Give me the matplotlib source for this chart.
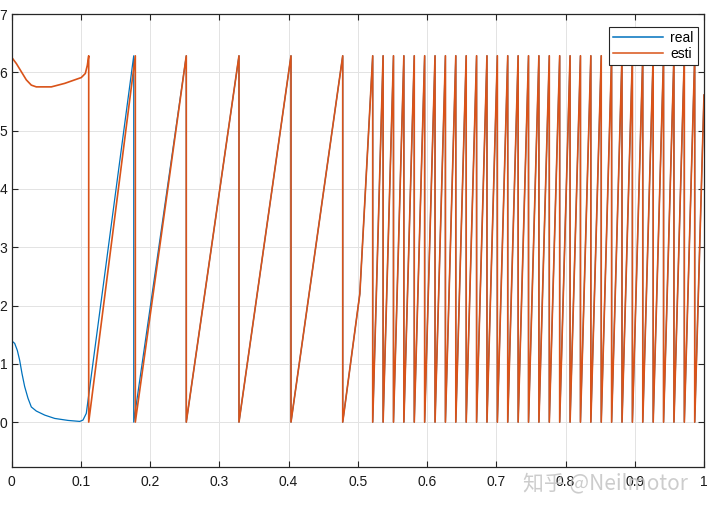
import numpy as np
import matplotlib
matplotlib.use("Agg")
import matplotlib.pyplot as plt

plt.rcParams['font.family'] = ['Liberation Sans', 'DejaVu Sans']

TWO_PI = 6.2832

# start-up part (before the first wrap)
real_start_t = [0.0, 0.0007, 0.0046, 0.0084, 0.0118, 0.0152, 0.019, 0.0238, 0.0286,
                0.0358, 0.048, 0.0624, 0.0816, 0.0985, 0.1032, 0.108]
real_start_v = [1.40, 1.39, 1.35, 1.23, 1.06, 0.83, 0.61, 0.41, 0.26,
                0.19, 0.12, 0.063, 0.029, 0.012, 0.034, 0.15]

esti_start_t = [0.0, 0.0007, 0.007, 0.0142, 0.0214, 0.0286, 0.0358, 0.0575, 0.0768,
                0.1008, 0.1066, 0.1095]
esti_start_v = [0.0, 6.25, 6.15, 6.01, 5.87, 5.78, 5.75, 5.75, 5.81,
                5.91, 5.98, 6.12]

# wrap instants (angle drops 2pi -> 0)
real_wraps = [0.1765, 0.2524, 0.3285, 0.4036, 0.4783]
esti_wraps = [0.1115, 0.1788, 0.2524, 0.3285, 0.4036, 0.4783]

# kink in the ramp where the speed steps up
kink_t = 0.503
kink_v = 2.2

fast_wraps = [0.5216, 0.5366, 0.5516, 0.5666, 0.5816, 0.5966, 0.6116, 0.6266,
              0.6416, 0.6566, 0.6716, 0.6866, 0.7016, 0.7166, 0.7316, 0.7466,
              0.7616, 0.7766, 0.7916, 0.8066, 0.8216, 0.8366, 0.8516, 0.8666,
              0.8816, 0.8966, 0.9116, 0.9266, 0.9416, 0.9566, 0.9716, 0.9866]
end_t = 1.0
end_v = 5.61


def build(start_t, start_v, wraps):
    t = list(start_t)
    v = list(start_v)
    for w in wraps:
        t += [w, w]
        v += [TWO_PI, 0.0]
    t.append(kink_t)
    v.append(kink_v)
    for w in fast_wraps:
        t += [w, w]
        v += [TWO_PI, 0.0]
    t.append(end_t)
    v.append(end_v)
    return np.array(t), np.array(v)


t_real, v_real = build(real_start_t, real_start_v, real_wraps)
t_esti, v_esti = build(esti_start_t, esti_start_v, esti_wraps)

fig = plt.figure(figsize=(7.2, 5.12), dpi=100)
ax = fig.add_axes([11.5 / 720, 1 - 467 / 512, 692.5 / 720, 453 / 512])

# blue a touch thinner so the orange hides it where both coincide
ax.plot(t_real, v_real, color='#0072BD', lw=0.9, label='real')
ax.plot(t_esti, v_esti, color='#D95319', lw=1.2, label='esti')

ax.set_xlim(0, 1)
ax.set_ylim(-0.77, 7)
ax.set_xticks(np.arange(0, 1.01, 0.1))
ax.set_xticklabels(['0', '0.1', '0.2', '0.3', '0.4', '0.5', '0.6', '0.7', '0.8', '0.9', '1'])
ax.set_yticks(range(0, 8))

ax.grid(True, color='#e3e3e3', lw=0.7)
ax.set_axisbelow(True)
ax.tick_params(direction='in', top=True, right=True, length=4, width=0.8,
               color='#262626', labelsize=10, labelcolor='#1a1a1a')
ax.tick_params(axis='y', pad=3)
ax.tick_params(axis='x', pad=6)
for s in ax.spines.values():
    s.set_color('#262626')
    s.set_linewidth(0.9)

leg = ax.legend(loc='upper right', bbox_to_anchor=(0.9913, 0.9713), borderaxespad=0,
                fontsize=10, fancybox=False, framealpha=1, edgecolor='#262626',
                handlelength=3.6, borderpad=0.3, labelspacing=0.15, handletextpad=0.5)
leg.get_frame().set_linewidth(0.8)
for h in leg.get_lines():
    h.set_linewidth(1.1)

# watermark of the source site
fig.text(0.955, 0.055, '知乎 @Neilmotor', fontsize=15, color='#c4c4c4', alpha=0.85,
         ha='right', va='center', family=['Noto Sans CJK SC', 'DejaVu Sans'])

fig.savefig('out.png', dpi=100)
